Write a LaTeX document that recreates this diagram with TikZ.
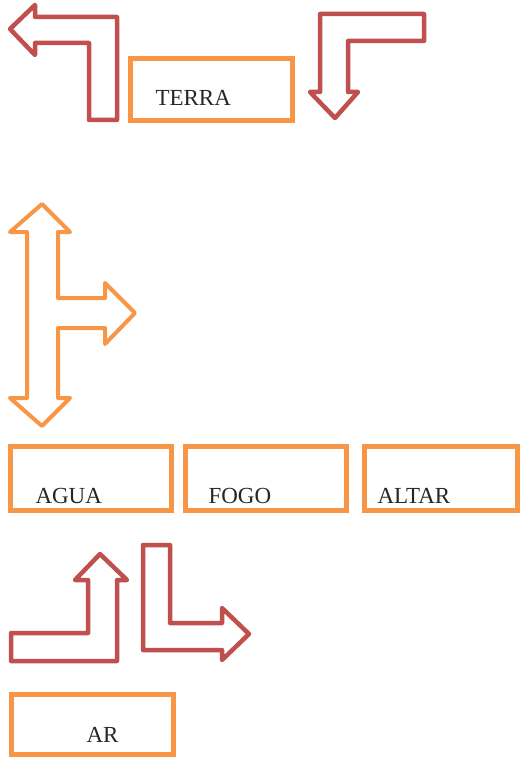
\documentclass[tikz,border=0pt]{standalone}
\usepackage{fontspec}
\setmainfont{Liberation Serif}
\usepackage{xcolor}
\usepackage{tikz}

\definecolor{arrowred}{HTML}{C0504D}
\definecolor{boxorange}{HTML}{F79646}

\begin{document}
\begin{tikzpicture}[x=1pt,y=-1pt,
        redarrow/.style={draw=arrowred,line width=4.5pt,line join=round},
        orangearrow/.style={draw=boxorange,line width=4pt,line join=round},
        box/.style={rectangle,draw=boxorange,line width=5pt,anchor=north west,
            minimum width=161pt,minimum height=64pt,inner ysep=2pt,
            text depth=0pt,align=left,text=black!85,
            font=\fontsize{23}{25}\selectfont},
        pad/.style 2 args={inner xsep=#1,text width=#2}]
    \useasboundingbox (0,0) rectangle (530,757);

    % Nodes
    \node[box,pad={25pt}{112pt},minimum width=162pt,minimum height=62pt,
        text height=33pt] (terra) at (128,56) {TERRA};
    \node[box,pad={25pt}{111pt},text height=50pt] (agua) at (8,444) {AGUA};
    \node[box,pad={23pt}{115pt},text height=50pt] (fogo) at (183,444) {FOGO};
    \node[box,pad={13pt}{127pt},minimum width=153pt,text height=50pt]
        (altar) at (362,444) {ALTAR};
    \node[box,pad={55pt}{52pt},align=right,minimum width=162pt,
        minimum height=60pt,text height=35pt] (ar) at (9,692) {AR};

    % Arrows
    \draw[redarrow] (10,29) -- (35,5) -- (35,17) -- (117,17) -- (117,120)
        -- (89,120) -- (89,43) -- (35,43) -- (35,55) -- cycle;
    \draw[redarrow] (320,14) -- (424,14) -- (424,41) -- (348,41) -- (348,92)
        -- (358,92) -- (335,118) -- (310,92) -- (320,92) -- cycle;
    \draw[orangearrow] (42,204) -- (70,232) -- (58,232) -- (58,298) -- (105,298)
        -- (105,283) -- (135,313) -- (105,344) -- (105,328) -- (58,328)
        -- (58,398) -- (70,398) -- (42,426) -- (10,398) -- (27,398)
        -- (27,232) -- (10,232) -- cycle;
    \draw[redarrow] (100,554) -- (127,580) -- (117,580) -- (117,661) -- (11,661)
        -- (11,633) -- (88,633) -- (88,580) -- (75,580) -- cycle;
    \draw[redarrow] (143,545) -- (170,545) -- (170,623) -- (222,623) -- (222,608)
        -- (249,634) -- (222,660) -- (222,650) -- (143,650) -- cycle;
\end{tikzpicture}
\end{document}
